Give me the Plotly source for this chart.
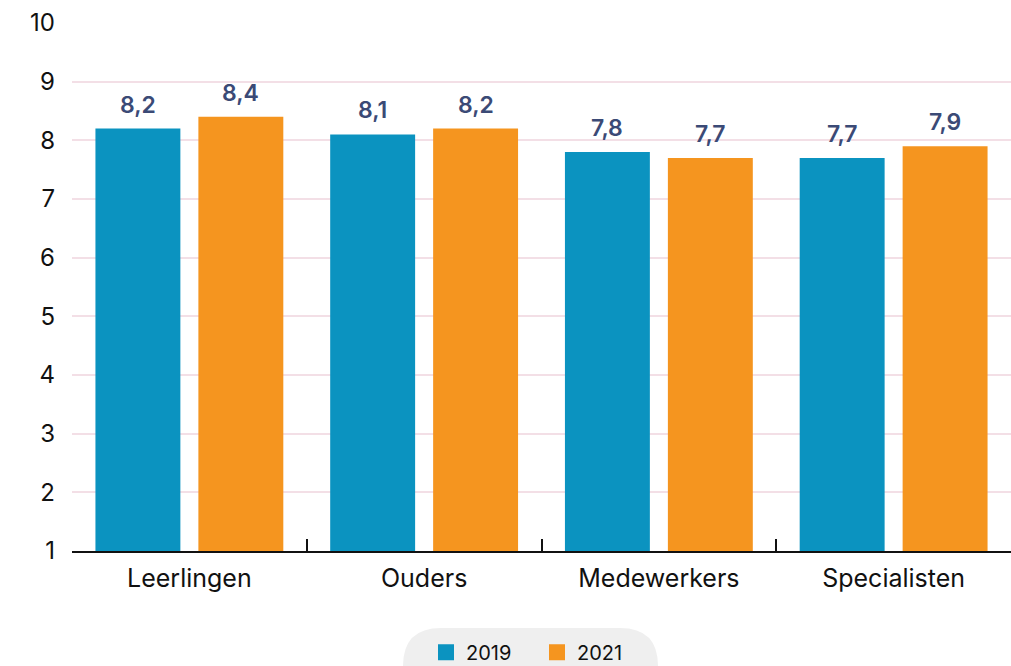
import plotly.graph_objects as go

categories = ["Leerlingen", "Ouders", "Medewerkers", "Specialisten"]
values_2019 = [8.2, 8.1, 7.8, 7.7]
values_2021 = [8.4, 8.2, 7.7, 7.9]
series_names = ["2019", "2021"]
y_ticks = [1, 2, 3, 4, 5, 6, 7, 8, 9, 10]

BLUE = "#0b93c0"
ORANGE = "#f5951f"
LABEL = "#3b4a76"
FONT = "Inter"

fig = go.Figure()
for name, vals, col in ((series_names[0], values_2019, BLUE), (series_names[1], values_2021, ORANGE)):
    fig.add_trace(go.Bar(x=categories, y=vals, name=name, legendgroup=name, showlegend=False,
                         marker=dict(color=col, line=dict(width=0))))
# legend entries with larger square swatches
for name, col in ((series_names[0], BLUE), (series_names[1], ORANGE)):
    fig.add_trace(go.Scatter(x=[None], y=[None], mode="markers", name=name, legendgroup=name,
                             marker=dict(symbol="square", size=17, color=col)))

def fmt(v):
    return f"{v:.1f}".replace(".", ",")

W = 1011
H = 666
L, R, T, B = 72, 0, 23, 115
cat_w = (W - L - R) / len(categories)
shift = cat_w * (1 - 0.123) / 4

annotations = []
for vals, sx in ((values_2019, -shift), (values_2021, shift)):
    for c, v in zip(categories, vals):
        annotations.append(dict(x=c, y=v, xref="x", yref="y", text=fmt(v),
                                showarrow=False, xshift=sx, yanchor="bottom", yshift=8,
                                font=dict(family=FONT, size=23, color=LABEL, weight=600)))

# pill-shaped legend background
pw = W - L - R
ph = H - T - B
x0p, x1p = (403 - L) / pw, (658 - L) / pw
y0p, y1p = -(628 - (H - B)) / ph, -(704 - (H - B)) / ph
rx, ry = 38 / pw, 38 / ph
path = (f"M {x0p+rx},{y0p} L {x1p-rx},{y0p} Q {x1p},{y0p} {x1p},{y0p-ry} "
        f"Q {x1p},{y1p} {x1p-rx},{y1p} L {x0p+rx},{y1p} Q {x0p},{y1p} {x0p},{y0p-ry} "
        f"Q {x0p},{y0p} {x0p+rx},{y0p} Z")

fig.update_layout(
    width=W, height=H,
    margin=dict(l=L, r=R, t=T, b=B, autoexpand=False),
    plot_bgcolor="white", paper_bgcolor="white",
    barmode="group", bargap=0.123, bargroupgap=0.175,
    font=dict(family=FONT, color="#111111"),
    xaxis=dict(showline=True, linecolor="#111111", linewidth=2,
               ticks="inside", tickson="boundaries", ticklen=12, tickwidth=1.5,
               tickcolor="#111111", tickfont=dict(size=25, family=FONT, color="#111111"),
               showgrid=False, automargin=False, ticklabelstandoff=4),
    yaxis=dict(range=[1, 10], tickvals=y_ticks, showline=False, zeroline=False,
               gridcolor="#f3dfe6", gridwidth=1.5, automargin=False,
               tickfont=dict(size=24, family=FONT, color="#111111"), ticks="",
               ticklabelstandoff=16),
    legend=dict(orientation="h", x=(426 - L) / pw, xanchor="left", y=-0.155, yanchor="top",
                bgcolor="rgba(0,0,0,0)", font=dict(size=20, family=FONT, color="#111111"),
                itemwidth=30, entrywidth=66, traceorder="normal"),
    annotations=annotations,
    shapes=[dict(type="path", path=path, xref="paper", yref="paper",
                 fillcolor="#efefef", line=dict(width=0), layer="below")],
    showlegend=True,
)

fig.write_html("out.html", config={"displayModeBar": False},
               post_script="document.body.style.margin='0';document.body.style.overflow='hidden';")
